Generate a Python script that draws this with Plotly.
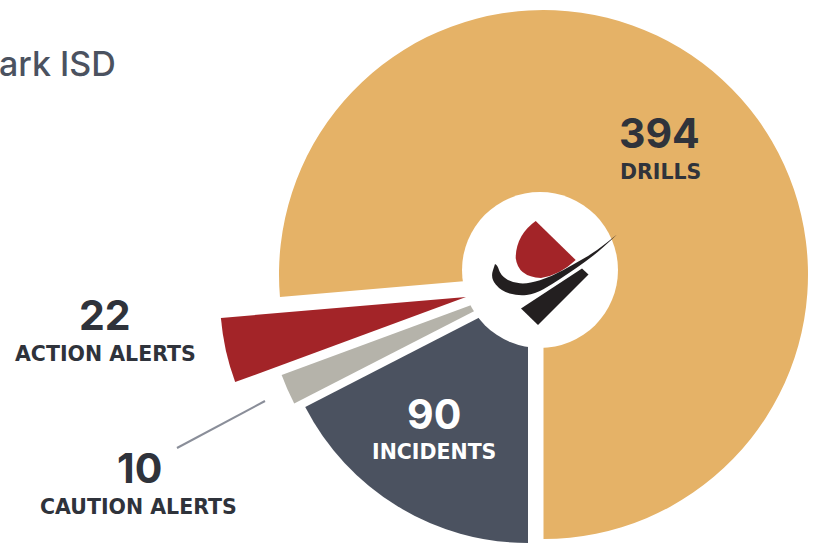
import plotly.graph_objects as go

# ---------------- data ----------------
categories = ["INCIDENTS", "CAUTION ALERTS", "ACTION ALERTS", "DRILLS"]
counts = [90, 10, 22, 394]
title_text = "ark ISD"

# ---------------- styling / layout ----------------
W, H = 814, 543
colors = {
    "INCIDENTS": "#4B5260",
    "CAUTION ALERTS": "#B5B3AA",
    "ACTION ALERTS": "#A32428",
    "DRILLS": "#E5B267",
}
# wedge apex (px from top-left) and radius for each exploded slice
geom = {
    "DRILLS": (543.5, 274.5, 264.5),
    "INCIDENTS": (528.0, 292.5, 250.5),
    "CAUTION ALERTS": (522.6, 286.2, 256.8),
    "ACTION ALERTS": (466.0, 297.0, 246.0),
}
# label anchor positions (px): number centre, label centre
label_pos = {
    "DRILLS": ((659, 133), (660, 172), "#2F333B"),
    "INCIDENTS": ((434, 414), (434, 452), "#FFFFFF"),
    "ACTION ALERTS": ((105, 315), (105, 354), "#2F333B"),
    "CAUTION ALERTS": ((139, 468), (138, 507), "#2F333B"),
}
NUM_FONT = "Inter, Noto Sans, sans-serif"
LBL_FONT = "DejaVu Sans, sans-serif"


def px(x):
    return min(1.0, max(0.0, x / W))


def py(y):
    return min(1.0, max(0.0, 1 - y / H))


fig = go.Figure()

draw_order = ["DRILLS", "INCIDENTS", "CAUTION ALERTS", "ACTION ALERTS"]
for name in draw_order:
    cx, cy, r = geom[name]
    slice_colors = [colors[c] if c == name else "rgba(0,0,0,0)" for c in categories]
    fig.add_trace(go.Pie(
        labels=categories,
        values=counts,
        sort=False,
        direction="clockwise",
        rotation=180,
        marker=dict(colors=slice_colors, line=dict(width=0)),
        textinfo="none",
        hoverinfo="skip",
        showlegend=False,
        domain=dict(x=[px(cx - r), px(cx + r)], y=[py(cy + r), py(cy - r)]),
    ))

shapes = []
# white centre disc
hc, hr = (540, 270), 78
shapes.append(dict(type="circle", xref="paper", yref="paper",
                   x0=px(hc[0] - hr), x1=px(hc[0] + hr),
                   y0=py(hc[1] + hr), y1=py(hc[1] - hr),
                   fillcolor="white", line=dict(width=0), layer="above"))


def P(x, y):
    return f"{x / W:.5f},{1 - y / H:.5f}"


def smooth(pts, start=True):
    """quadratic-spline through midpoints; returns path fragment"""
    out = [("M " if start else "L ") + P(*pts[0])]
    if len(pts) > 2:
        m = ((pts[0][0] + pts[1][0]) / 2, (pts[0][1] + pts[1][1]) / 2)
        out.append("L " + P(*m))
        for i in range(1, len(pts) - 1):
            nxt = pts[i + 1]
            m = ((pts[i][0] + nxt[0]) / 2, (pts[i][1] + nxt[1]) / 2)
            if i == len(pts) - 2:
                m = nxt
            out.append("Q " + P(*pts[i]) + " " + P(*m))
    else:
        out.append("L " + P(*pts[1]))
    return " ".join(out)


# logo: red shield
red_path = (f"M {P(535.7, 221)} L {P(575.7, 260)} Q {P(560, 275)} {P(541, 278)} "
            f"Q {P(518, 277)} {P(515.7, 258)} Q {P(516, 235)} {P(535.7, 221)} Z")
shapes.append(dict(type="path", xref="paper", yref="paper", path=red_path,
                   fillcolor="#A32428", line=dict(width=0), layer="above"))

# logo: black swoosh (lower edge to tip, then upper edge back)
lower = [(495.0, 264.0), (490.5, 278.0), (501.0, 291.0), (518.3, 296.0), (535.0, 294.0),
         (551.7, 284.5), (568.3, 273.5), (585.0, 262.0), (601.7, 249.0), (617.0, 234.5)]
upper = [(617.0, 234.5), (595.0, 252.0), (575.0, 263.5), (551.7, 276.5), (528.3, 284.0),
         (511.7, 282.5), (500.5, 275.0), (497.5, 265.0), (495.0, 264.0)]
swoosh = smooth(lower) + " " + smooth(upper, start=False) + " Z"
shapes.append(dict(type="path", xref="paper", yref="paper", path=swoosh,
                   fillcolor="#231F20", line=dict(width=0), layer="above"))
quad = (f"M {P(521, 308.5)} L {P(582, 268.5)} L {P(588.5, 274.5)} L {P(538, 325)} Z")
shapes.append(dict(type="path", xref="paper", yref="paper", path=quad,
                   fillcolor="#231F20", line=dict(width=0), layer="above"))
# leader line for caution alerts
shapes.append(dict(type="line", xref="paper", yref="paper",
                   x0=px(177), y0=py(448), x1=px(265), y1=py(401),
                   line=dict(color="#8A8E99", width=2), layer="above"))

annotations = []
for name, (npos, lpos, col) in label_pos.items():
    val = counts[categories.index(name)]
    annotations.append(dict(xref="paper", yref="paper", x=px(npos[0]), y=py(npos[1]),
                            text=f"<b>{val}</b>", showarrow=False,
                            xanchor="center", yanchor="middle",
                            font=dict(family=NUM_FONT, size=41, color=col)))
    annotations.append(dict(xref="paper", yref="paper", x=px(lpos[0]), y=py(lpos[1]),
                            text=name, showarrow=False,
                            xanchor="center", yanchor="middle",
                            font=dict(family=LBL_FONT, size=20.5, color=col, weight="bold")))
annotations.append(dict(xref="paper", yref="paper", x=-0.004, y=py(63),
                        text=title_text, showarrow=False,
                        xanchor="left", yanchor="middle",
                        font=dict(family=NUM_FONT, size=34, color="#4B5260", weight=500)))

fig.update_layout(
    width=W, height=H,
    margin=dict(l=0, r=0, t=0, b=0),
    paper_bgcolor="white", plot_bgcolor="white",
    shapes=shapes, annotations=annotations,
)

fig.write_html("out.html")
